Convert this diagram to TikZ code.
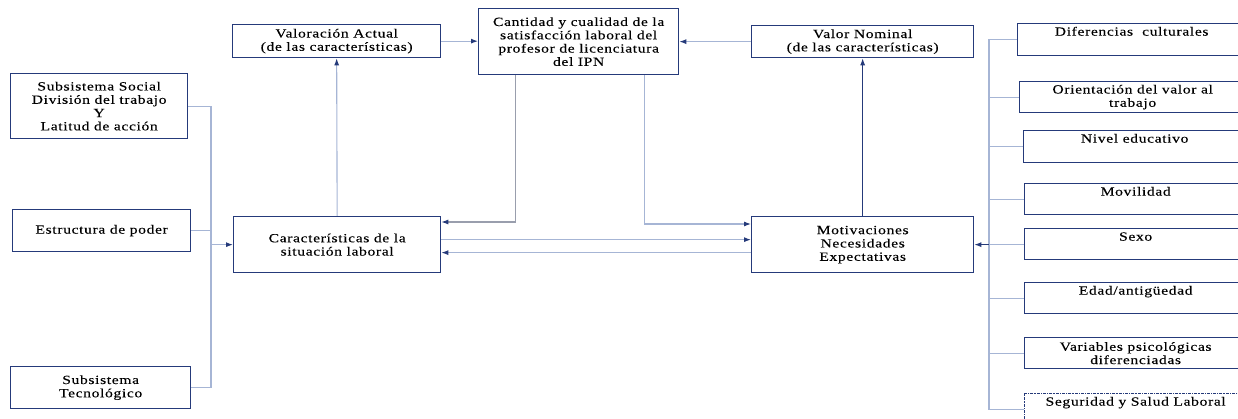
\documentclass[tikz,border=0pt]{standalone}
\usepackage{fontspec}
\setmainfont{Liberation Serif}[FakeStretch=1.25, LetterSpace=5, FakeBold=0.15]
\usetikzlibrary{arrows.meta}

\newlength{\du}
\setlength{\du}{1pt}

\definecolor{boxcolor}{rgb}{0.145000, 0.227000, 0.478000}
\definecolor{linecolor}{rgb}{0.650000, 0.710000, 0.835000}
\definecolor{greyline}{rgb}{0.600000, 0.620000, 0.680000}

\tikzset{
  boxnode/.style={draw=boxcolor, line width=1.3\du, rectangle, anchor=north west,
    align=center, inner sep=0pt, font=\fontsize{12.5}{13.3}\selectfont},
  topbox/.style={text height=12\du, text depth=#1},
  conn/.style={draw=linecolor, line width=1.1\du},
  tip/.style={-{Latex[length=7pt,width=5pt,color=boxcolor]}},
}

\begin{document}
\begin{tikzpicture}[x=1\du,y=-1\du]
\useasboundingbox (0,0) rectangle (1238,419);
% left column
\node[boxnode, minimum width=177\du, minimum height=65\du] (social) at (10,73)
  {Subsistema Social\\División del trabajo\\Y\\Latitud de acción};
\node[boxnode, minimum width=178\du, minimum height=42\du] (poder) at (12,209)
  {Estructura de poder};
\node[boxnode, minimum width=180\du, minimum height=42\du] (tecno) at (10,366)
  {Subsistema\\Tecnológico};
% middle
\node[boxnode, minimum width=207\du, minimum height=56\du] (carac) at (233,216)
  {Características de la\\situación laboral};
\node[boxnode, minimum width=208\du, minimum height=33\du] (valact) at (232,24)
  {Valoración Actual\\(de las características)};
\node[boxnode, minimum width=200\du, minimum height=66\du] (cantidad) at (478,8)
  {Cantidad y cualidad de la\\satisfacción laboral del\\profesor de licenciatura\\del IPN};
\node[boxnode, minimum width=222\du, minimum height=32\du] (valnom) at (751,25)
  {Valor Nominal\\(de las características)};
\node[boxnode, minimum width=222\du, minimum height=56\du] (motiv) at (751,216)
  {Motivaciones\\Necesidades\\Expectativas};
% right column
\node[boxnode, topbox=20\du, minimum width=228\du] (difer) at (1017,23)
  {Diferencias~~culturales};
\node[boxnode, minimum width=226\du, minimum height=31\du] (orient) at (1019,81)
  {Orientación del valor al\\trabajo};
\node[boxnode, topbox=20\du, minimum width=222\du] (nivel) at (1023,130)
  {Nivel educativo};
\node[boxnode, topbox=19\du, minimum width=222\du] (movil) at (1024,183)
  {Movilidad};
\node[boxnode, topbox=19\du, minimum width=222\du] (sexo) at (1024,228)
  {Sexo};
\node[boxnode, topbox=19\du, minimum width=222\du] (edad) at (1024,282)
  {Edad/antigüedad};
\node[boxnode, minimum width=222\du, minimum height=31\du] (variab) at (1024,337)
  {Variables psicológicas\\diferenciadas};
\node[boxnode, topbox=19\du, minimum width=222\du, densely dashdotted] (segur) at (1024,393)
  {Seguridad y Salud Laboral};

% left bus
\coordinate (lbus) at (211,0);
\draw[conn] (social.east) -| (lbus |- tecno.east) -- (tecno.east);
\draw[conn] (poder.east) -- (lbus |- poder.east);
\draw[conn, tip] (lbus |- carac.west) -- (carac.west);

% right bus
\coordinate (rbus) at (989,0);
\draw[conn] (difer.west) -| (rbus |- segur.west) -- (segur.west);
\foreach \n in {orient, nivel, movil, sexo, edad, variab}
  \draw[conn] (\n.west) -- (rbus |- \n.west);
\draw[draw=boxcolor, line width=1.1\du, tip] (rbus |- motiv.east) -- (motiv.east);

% middle connectors
\draw[conn, tip] (carac.north) -- (valact.south);
\draw[conn, tip] (valact.east) -- (cantidad.west |- valact.east);
\draw[conn, tip] (valnom.west) -- (cantidad.east |- valnom.west);
\draw[draw=boxcolor, line width=1\du, tip] (motiv.north) -- (valnom.south);
\draw[draw=greyline, line width=1.1\du, tip] ([xshift=-63\du]cantidad.south) |- ([yshift=-6\du]carac.north east);
\draw[conn, tip] ([xshift=66\du]cantidad.south) |- ([yshift=-8\du]motiv.north west);
\draw[conn, tip] ([yshift=5\du]carac.east) -- ([yshift=5\du]motiv.west);
\draw[conn, tip] ([yshift=-8\du]motiv.west) -- ([yshift=-8\du]carac.east);
\end{tikzpicture}
\end{document}
